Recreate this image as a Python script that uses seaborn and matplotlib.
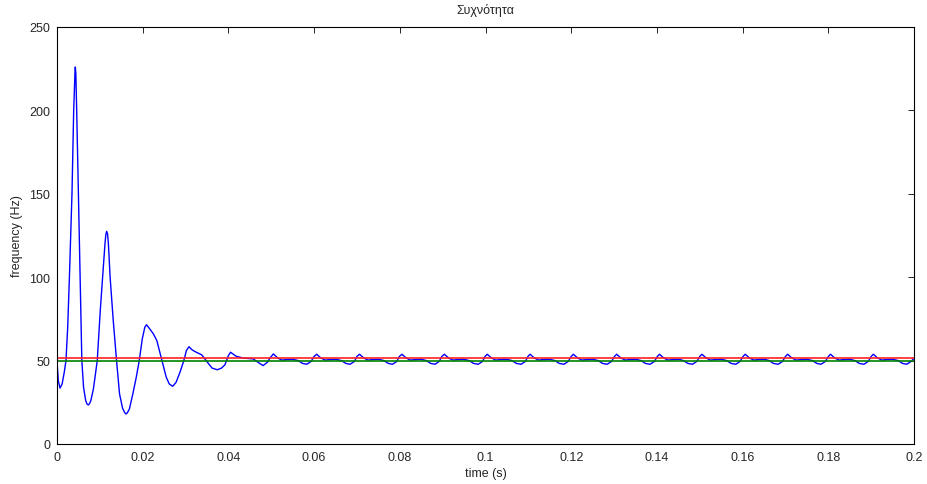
import numpy as np
import pandas as pd
import matplotlib
matplotlib.use("Agg")
import matplotlib.pyplot as plt
import seaborn as sns

# blue trace (time in s, frequency in Hz)
time_s = [
    0.0000, 0.0003, 0.0007, 0.0012, 0.0017, 0.0021, 0.0025, 0.0029, 0.0035, 0.0039,
    0.0041, 0.0042, 0.00428, 0.0044, 0.0046, 0.0050, 0.0054, 0.0058, 0.0062, 0.0067,
    0.0070, 0.0073, 0.0076,
    0.0079, 0.0085, 0.0094, 0.0101, 0.0108, 0.0112, 0.0114, 0.0116, 0.0118, 0.0120, 0.0124, 0.0131,
    0.0139, 0.0146, 0.0153, 0.0158, 0.0161, 0.0164, 0.0169, 0.0177, 0.0185, 0.0192, 0.0199, 0.0205,
    0.0209, 0.0215, 0.0225, 0.0233, 0.0244, 0.0255, 0.0262, 0.0270, 0.0278, 0.0287,
    0.0296, 0.0302, 0.0308, 0.0315, 0.0322, 0.0338, 0.0351, 0.0362, 0.0374, 0.0384,
    0.0392, 0.0400, 0.0405, 0.0418, 0.0435, 0.0458, 0.0470, 0.0481, 0.0491, 0.0497,
    0.0505, 0.0515, 0.0525, 0.0535, 0.0550, 0.0563, 0.0573, 0.0583, 0.0593, 0.0600,
    0.0606, 0.0616, 0.0626, 0.0636, 0.0651, 0.0664, 0.0674, 0.0684, 0.0694, 0.0700,
    0.0706, 0.0716, 0.0726, 0.0736, 0.0751, 0.0763, 0.0773, 0.0783, 0.0793, 0.0799,
    0.0805, 0.0815, 0.0825, 0.0835, 0.0850, 0.0862, 0.0872, 0.0882, 0.0892, 0.0898,
    0.0904, 0.0914, 0.0924, 0.0934, 0.0949, 0.0962, 0.0972, 0.0983, 0.0993, 0.0999,
    0.1004, 0.1014, 0.1024, 0.1034, 0.1049, 0.1062, 0.1072, 0.1083, 0.1093, 0.1099,
    0.1104, 0.1114, 0.1124, 0.1134, 0.1149, 0.1162, 0.1172, 0.1183, 0.1193, 0.1200,
    0.1205, 0.1215, 0.1225, 0.1235, 0.1250, 0.1263, 0.1273, 0.1284, 0.1294, 0.1301,
    0.1306, 0.1316, 0.1326, 0.1336, 0.1351, 0.1363, 0.1373, 0.1384, 0.1394, 0.1401,
    0.1406, 0.1416, 0.1426, 0.1436, 0.1451, 0.1462, 0.1472, 0.1483, 0.1493, 0.1500,
    0.1505, 0.1515, 0.1525, 0.1535, 0.1550, 0.1563, 0.1573, 0.1584, 0.1594, 0.1601,
    0.1606, 0.1616, 0.1626, 0.1636, 0.1651, 0.1662, 0.1672, 0.1683, 0.1693, 0.1700,
    0.1705, 0.1715, 0.1725, 0.1735, 0.1750, 0.1763, 0.1773, 0.1783, 0.1793, 0.1800,
    0.1805, 0.1815, 0.1825, 0.1835, 0.1850, 0.1862, 0.1872, 0.1883, 0.1893, 0.1900,
    0.1905, 0.1915, 0.1925, 0.1935, 0.1950, 0.1963, 0.1973, 0.1983, 0.1993, 0.2000,
]
freq_hz = [
    50.0, 38.0, 33.5, 36.0, 43.0, 50.0, 70.0, 100.0, 150.0, 200.0,
    216.0, 223.0, 226.0, 222.0, 200.0, 150.0, 100.0, 50.0, 34.0, 26.0,
    24.0, 23.4, 24.2,
    26.0, 33.0, 50.0, 80.0, 105.0, 120.0, 125.5, 127.5, 126.0, 120.0, 100.0, 75.0,
    50.0, 30.0, 21.5, 18.8, 18.0, 18.6, 21.0, 30.0, 40.0, 50.0, 63.0, 70.0,
    71.5, 69.5, 66.0, 62.0, 51.0, 40.0, 36.0, 34.6, 37.0, 43.0,
    50.0, 56.0, 58.3, 56.5, 55.4, 53.4, 49.0, 45.5, 44.5, 45.5,
    47.5, 53.0, 55.0, 52.6, 51.5, 51.0, 48.8, 47.0, 49.0, 51.5,
    54.0, 51.5, 50.3, 50.6, 50.8, 50.0, 48.3, 47.8, 49.5, 52.5,
    53.8, 51.5, 50.3, 50.6, 50.8, 50.0, 48.3, 47.8, 49.5, 52.5,
    53.8, 51.5, 50.3, 50.6, 50.8, 50.0, 48.3, 47.8, 49.5, 52.5,
    53.8, 51.5, 50.3, 50.6, 50.8, 50.0, 48.3, 47.8, 49.5, 52.5,
    53.8, 51.5, 50.3, 50.6, 50.8, 50.0, 48.3, 47.8, 49.5, 52.5,
    53.8, 51.5, 50.3, 50.6, 50.8, 50.0, 48.3, 47.8, 49.5, 52.5,
    53.8, 51.5, 50.3, 50.6, 50.8, 50.0, 48.3, 47.8, 49.5, 52.5,
    53.8, 51.5, 50.3, 50.6, 50.8, 50.0, 48.3, 47.8, 49.5, 52.5,
    53.8, 51.5, 50.3, 50.6, 50.8, 50.0, 48.3, 47.8, 49.5, 52.5,
    53.8, 51.5, 50.3, 50.6, 50.8, 50.0, 48.3, 47.8, 49.5, 52.5,
    53.8, 51.5, 50.3, 50.6, 50.8, 50.0, 48.3, 47.8, 49.5, 52.5,
    53.8, 51.5, 50.3, 50.6, 50.8, 50.0, 48.3, 47.8, 49.5, 52.5,
    53.8, 51.5, 50.3, 50.6, 50.8, 50.0, 48.3, 47.8, 49.5, 52.5,
    53.8, 51.5, 50.3, 50.6, 50.8, 50.0, 48.3, 47.8, 49.5, 52.5,
    53.8, 51.5, 50.3, 50.6, 50.8, 50.0, 48.3, 47.8, 49.5, 51.5,
]

upper_limit = 51.5   # red line
lower_limit = 49.5   # green line

x_ticks = [0, 0.02, 0.04, 0.06, 0.08, 0.1, 0.12, 0.14, 0.16, 0.18, 0.2]
x_tick_labels = ["0", "0.02", "0.04", "0.06", "0.08", "0.1", "0.12", "0.14", "0.16", "0.18", "0.2"]
y_ticks = [0, 50, 100, 150, 200, 250]

sns.set_theme(style="white")
plt.rcParams['font.family'] = ['Liberation Sans', 'DejaVu Sans']
plt.rcParams['xtick.direction'] = 'in'
plt.rcParams['ytick.direction'] = 'in'

df = pd.DataFrame({"time": time_s, "freq": freq_hz})

fig = plt.figure(figsize=(9.28, 4.85), dpi=100)
ax = fig.add_axes([0.0614, 0.0825, 0.9236, 0.8598])

sns.lineplot(data=df, x="time", y="freq", ax=ax, color="#0000ff", linewidth=1.0)
ax.axhline(upper_limit, color="#ff2020", linewidth=1.4, alpha=0.85)
ax.axhline(lower_limit, color="#008000", linewidth=1.2)

ax.set_xlim(0, 0.2)
ax.set_ylim(0, 250)
ax.set_xticks(x_ticks)
ax.set_xticklabels(x_tick_labels)
ax.set_yticks(y_ticks)
ax.tick_params(axis="both", labelsize=9, length=4, width=0.6, color="black",
               top=True, right=True, pad=5)
for side in ax.spines.values():
    side.set_color("black")
    side.set_linewidth(0.8)

ax.set_title("Συχνότητα", fontsize=9, pad=10)
ax.set_xlabel("time (s)", fontsize=9, labelpad=3)
ax.set_ylabel("frequency (Hz)", fontsize=9, labelpad=4)

fig.savefig("out.png", dpi=100)
